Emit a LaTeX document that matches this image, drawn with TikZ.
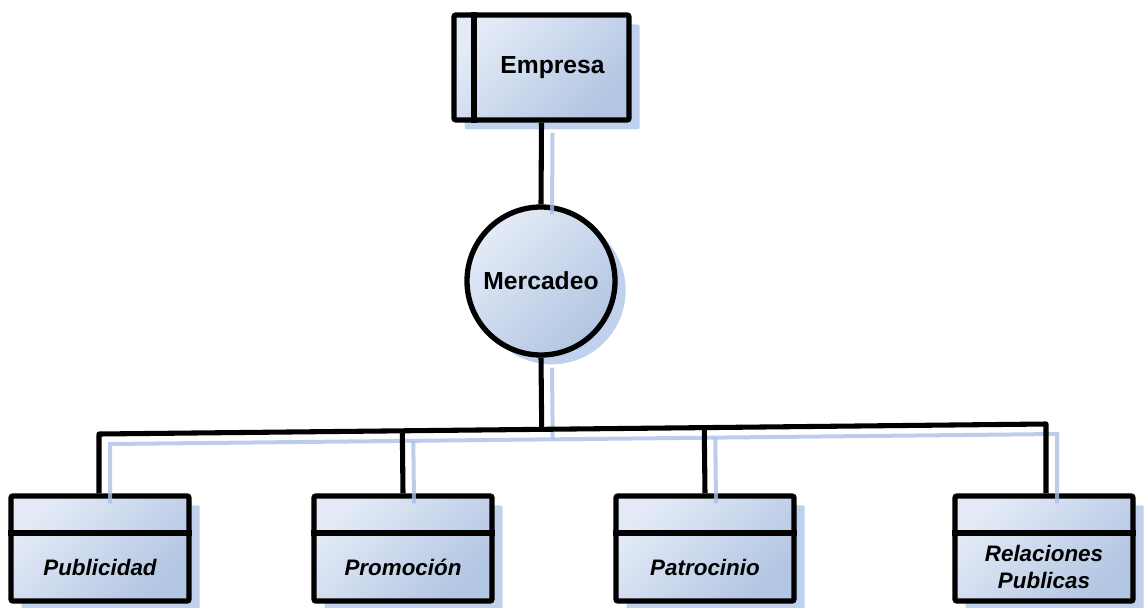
\documentclass[tikz,border=0pt]{standalone}
\usepackage{fontspec}
\setmainfont{Liberation Sans}
\usetikzlibrary{shadows,calc}
\definecolor{fillA}{RGB}{228,235,247}
\definecolor{fillB}{RGB}{178,197,226}
\definecolor{shadowc}{RGB}{170,193,230}
\tikzset{
  shp/.style={draw=black, line width=4pt, top color=fillA, bottom color=fillB, shading angle=45,
    drop shadow={shadow xshift=8pt, shadow yshift=-7pt, opacity=0.75, fill=shadowc}},
  boxshape/.style={shp, rounded corners=1.5pt, minimum width=133.5pt, minimum height=78.75pt, inner sep=0pt},
  conn/.style={draw=black, line width=3.8pt},
  shline/.style={draw=shadowc, opacity=0.8, line width=3pt, transform canvas={xshift=8.25pt, yshift=-7.5pt}},
  toplbl/.style={font=\fontsize{18.5}{21}\selectfont\bfseries, align=center, inner sep=0pt},
  botlbl/.style={font=\fontsize{16.8}{20.2}\selectfont\bfseries\itshape, align=center, inner sep=0pt},
  divline/.style={draw=black, line width=4pt}
}
\begin{document}
\begin{tikzpicture}[x=0.75pt, y=-0.75pt]
\useasboundingbox (0,0) rectangle (1144,607);

% top shapes
\node[shp, rounded corners=1.5pt, minimum width=131.25pt, minimum height=78.75pt, inner sep=0pt] (emp) at (541.5,67.5) {};
\coordinate (empL) at (474,0);
\draw[divline] (emp.north -| empL) -- (emp.south -| empL);
\node[toplbl] (empt) at (552.5,68) {Empresa};

\node[shp, circle, minimum size=111pt, inner sep=0pt, toplbl] (mer) at (541,281) {Mercadeo};

% bottom boxes
\node[boxshape] (pub) at (100,548.5) {};
\node[boxshape] (pro) at (403,548.5) {};
\node[boxshape] (pat) at (705,548.5) {};
\node[boxshape] (rel) at (1044,548.5) {};
\coordinate (divy) at (0,533);
\foreach \b in {pub,pro,pat,rel}{
  \draw[divline] (\b.west |- divy) -- (\b.east |- divy);
}
\node[botlbl] (pubt) at (100,567) {Publicidad};
\node[botlbl] (prot) at (403,567) {Promoción};
\node[botlbl] (patt) at (705,567) {Patrocinio};
\node[botlbl] (relt) at (1044,567) {Relaciones\\Publicas};

% bus coordinates
\coordinate (busL) at (99,434);
\coordinate (busR) at (1046,424);

% shadow connectors
\draw[shline] (emp.south) -- (mer.north);
\draw[shline] (mer.south) -- ($(busL)!(mer.south)!(busR)$);
\draw[shline] (pub.north -| busL) -- (busL) -- (busR) -- (rel.north -| busR);
\draw[shline] (pro.north) -- ($(busL)!(pro.north)!(busR)$);
\draw[shline] (pat.north) -- ($(busL)!(pat.north)!(busR)$);

% connectors
\draw[conn] (emp.south) -- (mer.north);
\draw[conn] (mer.south) -- ($(busL)!(mer.south)!(busR)$);
\draw[conn, line join=round] (pub.north -| busL) -- (busL) -- (busR) -- (rel.north -| busR);
\draw[conn] (pro.north) -- ($(busL)!(pro.north)!(busR)$);
\draw[conn] (pat.north) -- ($(busL)!(pat.north)!(busR)$);
\end{tikzpicture}
\end{document}
